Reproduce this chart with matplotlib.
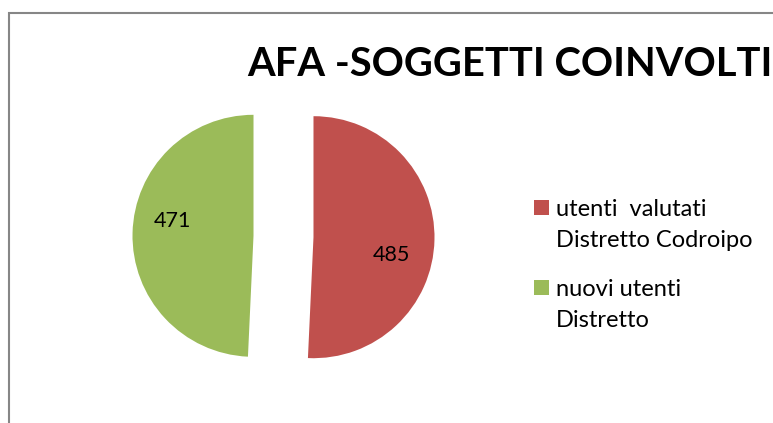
import matplotlib
matplotlib.use("Agg")
import matplotlib.pyplot as plt
from matplotlib.patches import Rectangle

title = "AFA -SOGGETTI COINVOLTI"
categories = ["utenti  valutati\nDistretto Codroipo", "nuovi utenti\nDistretto"]
values = [485, 471]
colors = ["#C0504D", "#9BBB59"]

W, H = 773, 423
fig = plt.figure(figsize=(W / 100, H / 100), dpi=100)
ax = fig.add_axes([0, 0, 1, 1])

# outer frame (left and top edges visible)
ax.add_patch(Rectangle((9, -50), 900, H - 13 + 50, fill=False, edgecolor="#868686", linewidth=1.5))

total = sum(values)
wedges, texts, autotexts = ax.pie(
    values, colors=colors, startangle=90, counterclock=False,
    center=(283.5, H - 236.5), radius=121, explode=[30, 30],
    autopct=lambda p: f"{round(p * total / 100)}", textprops=dict(fontsize=15.5, family="Lato"),
    frame=True,
)
ax.set_xlim(0, W)
ax.set_ylim(0, H)
ax.set_aspect("equal")
ax.axis("off")
label_pos = [(391, H - 255), (172, H - 220.5)]
for t, pos in zip(autotexts, label_pos):
    t.set_position(pos)
    t.set_ha("center")
    t.set_va("center")

# title, sized to span the reference width
tt = ax.text(247, H - 76, title, ha="left", va="baseline", fontsize=30, fontweight="bold", family="Lato")
fig.canvas.draw()
w = tt.get_window_extent().width
tt.set_fontsize(30 * 524 / w)

# legend drawn manually (handle aligned to the first text line)
entry_baselines = [216, 296]
line_gap = 31
for cat, col, yb in zip(categories, colors, entry_baselines):
    ax.add_patch(Rectangle((534, H - 215 - (yb - 216)), 15, 15, facecolor=col, edgecolor="none"))
    for k, line in enumerate(cat.split("\n")):
        ax.text(556, H - (yb + k * line_gap), line, ha="left", va="baseline",
                fontsize=17, family="Lato")

fig.savefig("out.png", dpi=100)
